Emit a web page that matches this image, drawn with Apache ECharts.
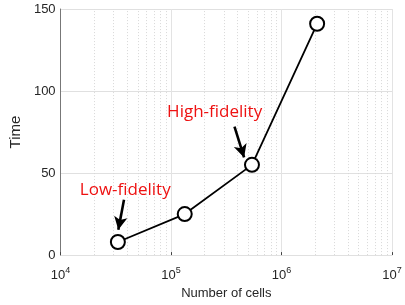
<!DOCTYPE html>
<html>
<head>
<meta charset="utf-8">
<script src="https://cdn.jsdelivr.net/npm/echarts@6/dist/echarts.min.js"></script>
<style>
html,body{margin:0;padding:0;background:#fff;}
#main{width:405px;height:305px;}
</style>
</head>
<body>
<div id="main"></div>
<script>
// data
var cells = [3.3e4, 1.33e5, 5.4e5, 2.1e6];
var times = [8, 25, 55, 141];
var yTicks = [0, 50, 100, 150];
var minorX = [2e4,3e4,4e4,5e4,6e4,7e4,8e4,9e4,
              2e5,3e5,4e5,5e5,6e5,7e5,8e5,9e5,
              2e6,3e6,4e6,5e6,6e6,7e6,8e6,9e6];
// annotations: [text, textX, textY, arrowFromX, arrowFromY, arrowToX, arrowToY]
var notes = [
    ['Low-fidelity', 3.85e4, 39.5, 3.75e4, 33.7, 3.33e4, 15.5],
    ['High-fidelity', 2.48e5, 87.0, 3.75e5, 78.3, 4.58e5, 59.5]
];

var myChart = echarts.init(document.getElementById('main'));

var lineData = cells.map(function(c, i){ return [c, times[i]]; });

var gridLines = minorX.map(function(v){ return {xAxis: v}; });

var arrows = notes.map(function(n){
    return [{coord: [n[3], n[4]]}, {coord: [n[5], n[6]]}];
});
var labels = notes.map(function(n){
    return {
        coord: [n[1], n[2]],
        symbol: 'circle',
        symbolSize: 0,
        label: {
            show: true,
            formatter: n[0],
            color: '#ee1111',
            fontSize: 17,
            fontFamily: 'Open Sans',
            position: 'inside'
        }
    };
});

option = {
    animation: false,
    grid: {
        left: 49,
        right: 13,
        top: 9,
        bottom: 47
    },
    xAxis: {
        type: 'log',
        logBase: 10,
        min: 1e4,
        max: 1e7,
        name: 'Number of cells',
        nameLocation: 'middle',
        nameGap: 31,
        nameTextStyle: {
            fontSize: 13,
            fontFamily: 'Liberation Sans',
            color: '#262626'
        },
        axisLine: {show: false},
        axisTick: {show: true, inside: true, length: 3, lineStyle: {color: '#444'}},
        axisLabel: {
            margin: 8,
            formatter: function(v){
                return '{b|10}{s|' + Math.round(Math.log10(v)) + '}';
            },
            rich: {
                b: {fontSize: 13, fontFamily: 'Liberation Sans', color: '#262626', padding: [6,0,0,0]},
                s: {fontSize: 9, fontFamily: 'Liberation Sans', color: '#262626', padding: [0,0,4,0]}
            }
        },
        splitLine: {show: true, lineStyle: {color: '#e3e3e3', width: 1}}
    },
    yAxis: {
        type: 'value',
        min: 0,
        max: 150,
        interval: 50,
        name: 'Time',
        nameLocation: 'middle',
        nameGap: 28,
        nameTextStyle: {
            fontSize: 15,
            fontFamily: 'Liberation Sans',
            color: '#262626'
        },
        axisLine: {show: true, lineStyle: {color: '#777', width: 1}},
        axisTick: {show: false},
        axisLabel: {
            margin: 5,
            fontSize: 13,
            fontFamily: 'Liberation Sans',
            color: '#262626'
        },
        splitLine: {show: true, lineStyle: {color: '#e0e0e0', width: 1}}
    },
    series: [
        {
            type: 'line',
            data: [],
            silent: true,
            markLine: {
                silent: true,
                symbol: ['none', 'none'],
                label: {show: false},
                lineStyle: {color: '#d8d8d8', type: [1, 2], width: 1},
                data: gridLines
            }
        },
        {
            name: 'Time',
            type: 'line',
            data: lineData,
            symbol: 'emptyCircle',
            symbolSize: 14,
            lineStyle: {color: '#000', width: 1.8},
            itemStyle: {color: '#000', borderColor: '#000', borderWidth: 1.8},
            z: 5
        },
        {
            type: 'line',
            data: [],
            markLine: {
                silent: true,
                symbol: ['none', 'arrow'],
                symbolSize: [10, 13],
                label: {show: false},
                lineStyle: {color: '#000', type: 'solid', width: 2.6},
                data: arrows
            },
            markPoint: {
                silent: true,
                data: labels
            }
        }
    ]
};
myChart.setOption(option);
</script>
</body>
</html>
